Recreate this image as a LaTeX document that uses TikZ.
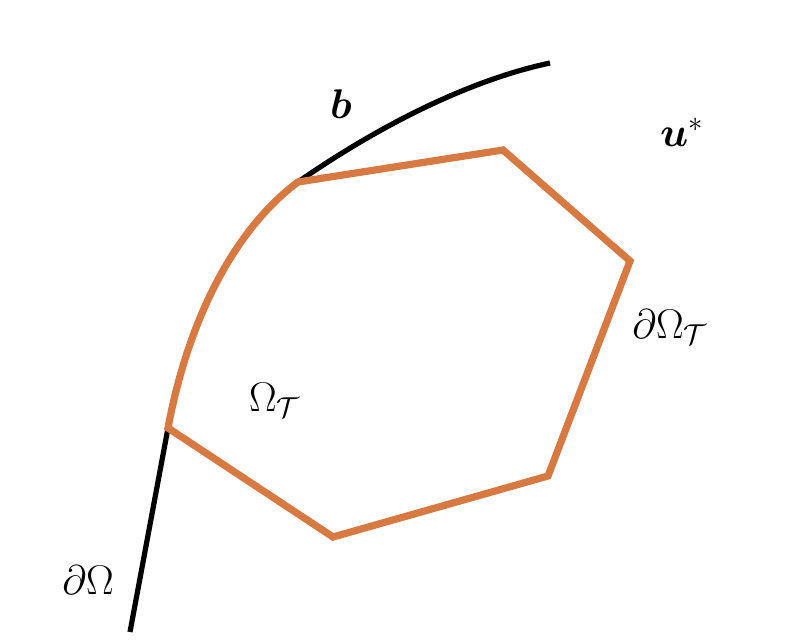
\documentclass[tikz,border=0pt]{standalone}
\usepackage{amsmath,bm}
\usetikzlibrary{calc}
\definecolor{meshorange}{RGB}{217,121,66}

\begin{document}
\begin{tikzpicture}[x=.5pt,y=-.5pt,
  font=\fontsize{21}{25}\selectfont,
  bdry/.style={black,line width=2.6pt},
  mesh/.style={meshorange,line width=3.6pt},
  lab/.style={inner sep=1pt}]
  \path[use as bounding box] (0,0) rectangle (790,640);
  % points of the discrete domain
  \coordinate (P1) at (168,428);
  \coordinate (P2) at (298,182);
  \coordinate (P3) at (503,150);
  \coordinate (P4) at (630,261);
  \coordinate (P5) at (548,476);
  \coordinate (P6) at (333,537);
  % true boundary
  \draw[bdry] (130,632) -- (P1)
    .. controls (190,310) and (240,225) .. (P2)
    .. controls (380,125) and (470,80) .. (550,63);
  % curved element boundary following the true one
  \draw[mesh] (P1) .. controls (190,310) and (240,225) .. (P2)
    -- (P3) -- (P4) -- (P5) -- (P6) -- cycle;
  \node[lab] (b) at (341,104) {$\bm{b}$};
  \node[lab] (ustar) at (682,132) {$\bm{u}^{*}$};
  \node[lab] (dOmT) at (670,327) {$\partial\Omega_{\mathcal{T}}$};
  \node[lab] (OmT) at (275,400) {$\Omega_{\mathcal{T}}$};
  \node[lab] (dOm) at (88,580) {$\partial\Omega$};
\end{tikzpicture}
\end{document}
